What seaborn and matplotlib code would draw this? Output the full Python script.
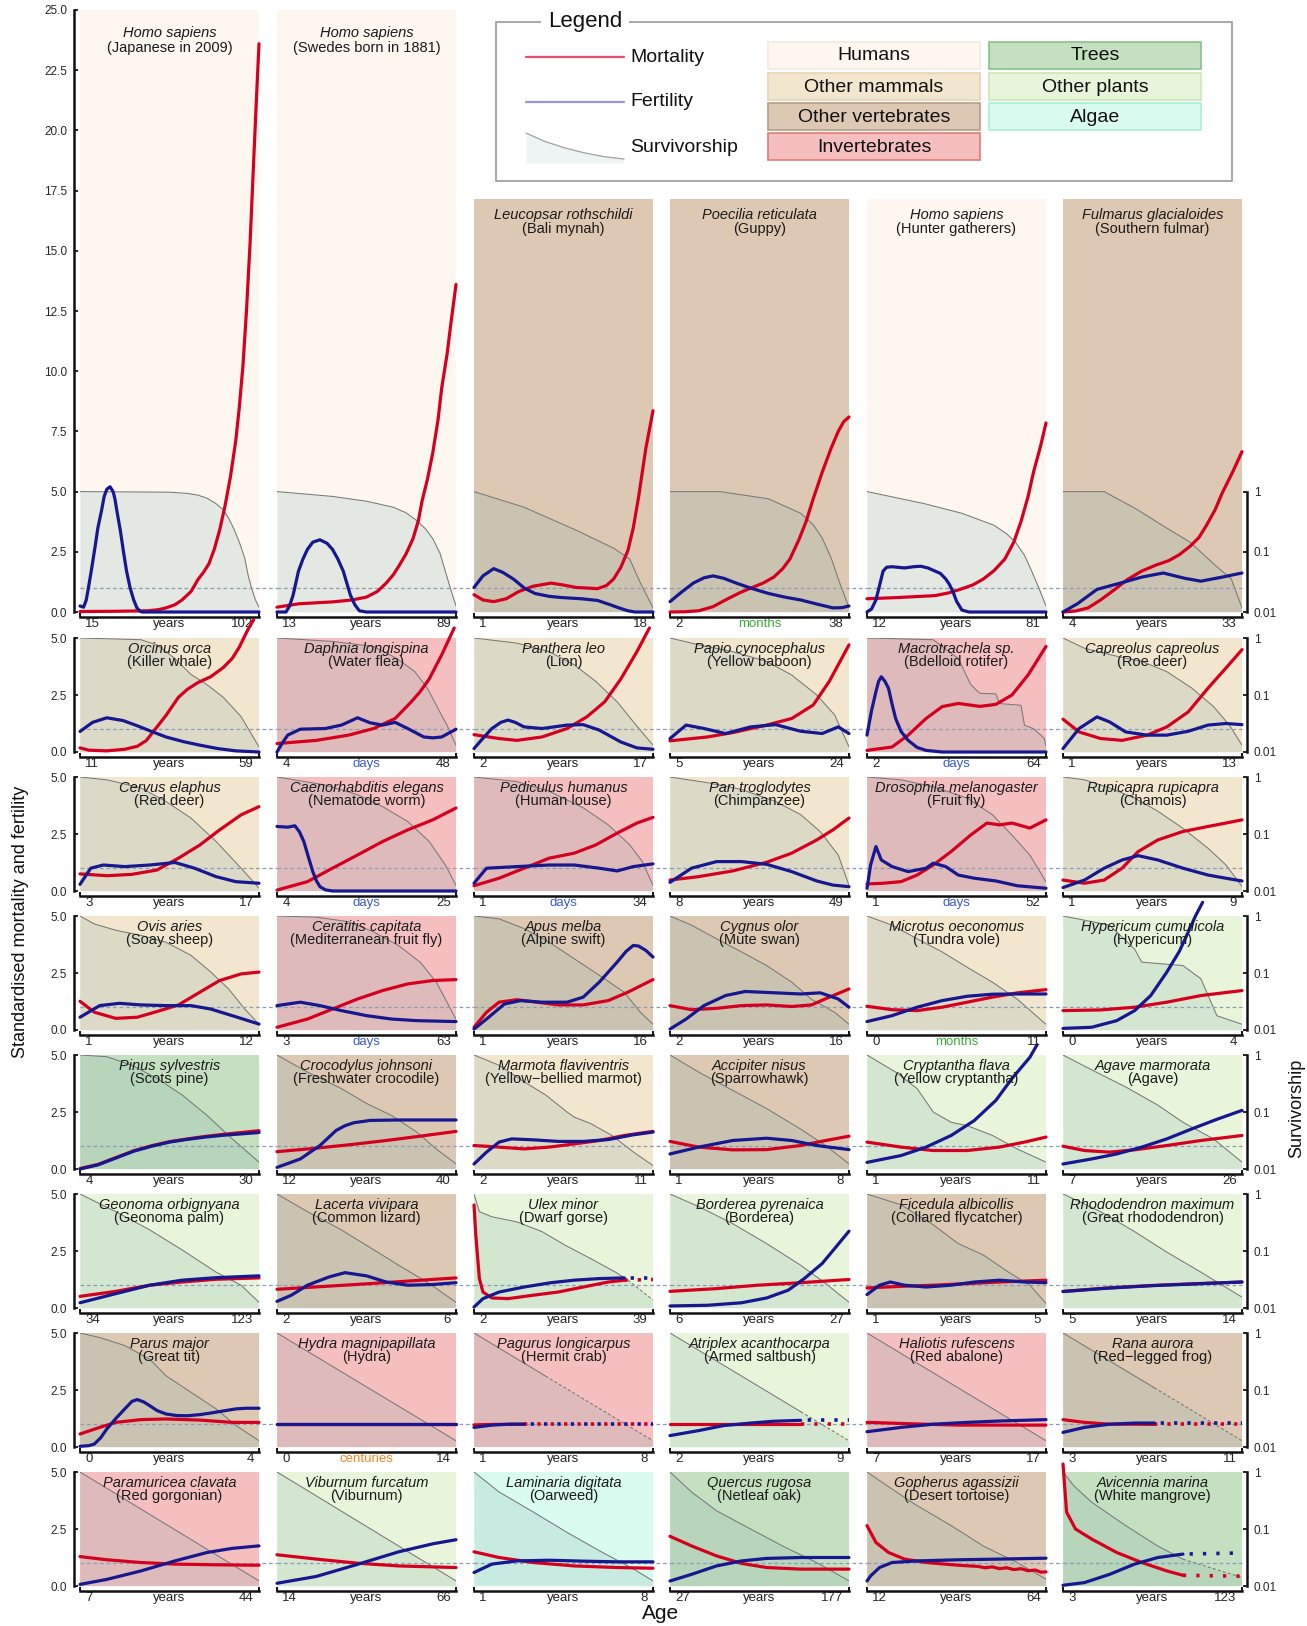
import numpy as np
import pandas as pd
import matplotlib
matplotlib.use("Agg")
import matplotlib.pyplot as plt
from matplotlib.patches import Rectangle
from matplotlib.ticker import NullLocator
import seaborn as sns

# ---------------------------------------------------------------- labels
species = [
    "Homo sapiens", "Homo sapiens", "Leucopsar rothschildi", "Poecilia reticulata", "Homo sapiens", "Fulmarus glacialoides",
    "Orcinus orca", "Daphnia longispina", "Panthera leo", "Papio cynocephalus", "Macrotrachela sp.", "Capreolus capreolus",
    "Cervus elaphus", "Caenorhabditis elegans", "Pediculus humanus", "Pan troglodytes", "Drosophila melanogaster", "Rupicapra rupicapra",
    "Ovis aries", "Ceratitis capitata", "Apus melba", "Cygnus olor", "Microtus oeconomus", "Hypericum cumulicola",
    "Pinus sylvestris", "Crocodylus johnsoni", "Marmota flaviventris", "Accipiter nisus", "Cryptantha flava", "Agave marmorata",
    "Geonoma orbignyana", "Lacerta vivipara", "Ulex minor", "Borderea pyrenaica", "Ficedula albicollis", "Rhododendron maximum",
    "Parus major", "Hydra magnipapillata", "Pagurus longicarpus", "Atriplex acanthocarpa", "Haliotis rufescens", "Rana aurora",
    "Paramuricea clavata", "Viburnum furcatum", "Laminaria digitata", "Quercus rugosa", "Gopherus agassizii", "Avicennia marina",
]
common_names = [
    "(Japanese in 2009)", "(Swedes born in 1881)", "(Bali mynah)", "(Guppy)", "(Hunter gatherers)", "(Southern fulmar)",
    "(Killer whale)", "(Water flea)", "(Lion)", "(Yellow baboon)", "(Bdelloid rotifer)", "(Roe deer)",
    "(Red deer)", "(Nematode worm)", "(Human louse)", "(Chimpanzee)", "(Fruit fly)", "(Chamois)",
    "(Soay sheep)", "(Mediterranean fruit fly)", "(Alpine swift)", "(Mute swan)", "(Tundra vole)", "(Hypericum)",
    "(Scots pine)", "(Freshwater crocodile)", "(Yellow\u2212bellied marmot)", "(Sparrowhawk)", "(Yellow cryptantha)", "(Agave)",
    "(Geonoma palm)", "(Common lizard)", "(Dwarf gorse)", "(Borderea)", "(Collared flycatcher)", "(Great rhododendron)",
    "(Great tit)", "(Hydra)", "(Hermit crab)", "(Armed saltbush)", "(Red abalone)", "(Red\u2212legged frog)",
    "(Red gorgonian)", "(Viburnum)", "(Oarweed)", "(Netleaf oak)", "(Desert tortoise)", "(White mangrove)",
]
# H humans, M other mammals, V other vertebrates, I invertebrates, T trees, P other plants, A algae
groups = [
    "H", "H", "V", "V", "H", "V",
    "M", "I", "M", "M", "I", "M",
    "M", "I", "I", "M", "I", "M",
    "M", "I", "V", "V", "M", "P",
    "T", "V", "M", "V", "P", "P",
    "P", "V", "P", "P", "V", "P",
    "V", "I", "I", "P", "I", "V",
    "I", "P", "A", "T", "V", "T",
]
age_start = [15, 13, 1, 2, 12, 4,
             11, 4, 2, 5, 2, 1,
             3, 4, 1, 8, 1, 1,
             1, 3, 1, 2, 0, 0,
             4, 12, 2, 1, 1, 7,
             34, 2, 2, 6, 1, 5,
             0, 0, 1, 2, 7, 3,
             7, 14, 1, 27, 12, 3]
age_end = [102, 89, 18, 38, 81, 33,
           59, 48, 17, 24, 64, 13,
           17, 25, 34, 49, 52, 9,
           12, 63, 16, 16, 11, 4,
           30, 40, 11, 8, 11, 26,
           123, 6, 39, 27, 5, 14,
           4, 14, 8, 9, 17, 11,
           44, 66, 8, 177, 64, 123]
age_unit = ["years", "years", "years", "months", "years", "years",
            "years", "days", "years", "years", "days", "years",
            "years", "days", "days", "years", "days", "years",
            "years", "days", "years", "years", "months", "years",
            "years", "years", "years", "years", "years", "years",
            "years", "years", "years", "years", "years", "years",
            "years", "centuries", "years", "years", "years", "years",
            "years", "years", "years", "years", "years", "years"]

# ------------------------------------------- curves: (standardised age, value)
# mortality (_m) and fertility (_f) are standardised rates; survivorship (_s) is log10(lx)
japan_m = [(0, .02), (.2, .03), (.38, .05), (.44, .1), (.48, .17), (.53, .3), (.57, .5), (.62, .85), (.66, 1.36), (.69, 1.65),
           (.72, 2.0), (.75, 2.6), (.78, 3.4), (.81, 4.4), (.84, 5.6), (.87, 7.1), (.89, 8.5), (.91, 10.2), (.93, 12.5),
           (.95, 15.3), (.97, 18.7), (.985, 21.2), (1, 23.6)]
japan_f = [(0, .25), (.02, .2), (.035, .5), (.047, 1.0), (.065, 1.8), (.084, 2.7), (.1, 3.5), (.12, 4.2), (.135, 4.8),
           (.15, 5.1), (.168, 5.2), (.185, 5.0), (.195, 4.7), (.206, 4.2), (.225, 3.4), (.243, 2.5), (.26, 1.7), (.28, 1.0),
           (.3, .5), (.318, .17), (.335, .04), (.346, 0), (1, 0)]
japan_s = [(0, 0), (.5, -.01), (.6, -.03), (.66, -.06), (.71, -.11), (.76, -.2), (.8, -.3), (.83, -.44), (.86, -.62),
           (.89, -.84), (.92, -1.1), (.94, -1.4), (.96, -1.62), (.98, -1.8), (1, -1.92)]

swede_m = [(0, .2), (.12, .34), (.31, .42), (.42, .5), (.5, .62), (.56, .85), (.61, 1.2), (.65, 1.55), (.68, 1.9), (.72, 2.4),
           (.76, 3.05), (.79, 3.8), (.81, 4.6), (.84, 5.5), (.87, 6.6), (.9, 8.0), (.92, 9.3), (.95, 10.7), (.97, 11.9), (1, 13.6)]
swede_f = [(0, 0), (.05, 0), (.07, .25), (.09, .7), (.105, 1.2), (.12, 1.7), (.145, 2.2), (.17, 2.6), (.2, 2.9), (.24, 3.0),
           (.28, 2.85), (.31, 2.6), (.34, 2.2), (.37, 1.7), (.39, 1.2), (.41, .7), (.435, .3), (.46, .05), (.5, 0), (1, 0)]
swede_s = [(0, 0), (.31, -.08), (.5, -.16), (.65, -.26), (.72, -.35), (.78, -.48), (.83, -.62), (.87, -.78), (.91, -1.02),
           (.94, -1.32), (.97, -1.62), (1, -1.9)]

mynah_m = [(0, .72), (.05, .5), (.11, .43), (.18, .55), (.25, .85), (.33, 1.07), (.43, 1.2), (.5, 1.12), (.57, 1.02), (.69, .97),
           (.74, 1.1), (.78, 1.37), (.82, 1.85), (.86, 2.56), (.89, 3.5), (.92, 4.8), (.96, 6.8), (1, 8.36)]
mynah_f = [(0, 1.02), (.05, 1.5), (.11, 1.8), (.16, 1.65), (.22, 1.37), (.28, 1.0), (.34, .77), (.42, .65), (.49, .6), (.6, .55),
           (.69, .48), (.75, .33), (.81, .17), (.86, .05), (.9, 0), (1, 0)]
mynah_s = [(0, 0), (.28, -.26), (.57, -.64), (.78, -.94), (.87, -1.12), (.93, -1.52), (1, -1.93)]

guppy_m = [(0, 0), (.08, .01), (.16, .05), (.24, .22), (.31, .5), (.39, .8), (.46, 1.02), (.52, 1.2), (.58, 1.45), (.63, 1.8),
           (.67, 2.2), (.72, 3.0), (.76, 3.75), (.8, 4.7), (.85, 5.8), (.9, 6.8), (.94, 7.5), (.97, 7.9), (1, 8.1)]
guppy_f = [(0, .43), (.06, .8), (.13, 1.2), (.19, 1.42), (.24, 1.5), (.3, 1.4), (.37, 1.2), (.46, .97), (.55, .77), (.64, .62),
           (.73, .5), (.82, .33), (.91, .17), (.96, .18), (1, .25)]
guppy_s = [(0, 0), (.28, 0), (.55, -.12), (.73, -.36), (.8, -.55), (.85, -.77), (.9, -1.1), (.94, -1.45), (1, -1.93)]

hunter_m = [(0, .55), (.17, .6), (.38, .68), (.46, .8), (.52, .94), (.59, 1.12), (.65, 1.37), (.71, 1.72), (.77, 2.2), (.82, 2.9),
            (.86, 3.75), (.9, 4.8), (.93, 5.8), (.97, 6.9), (1, 7.85)]
hunter_f = [(0, 0), (.025, .12), (.05, .5), (.07, 1.1), (.09, 1.7), (.11, 1.86), (.14, 1.88), (.21, 1.83), (.26, 1.88), (.3, 1.9),
            (.34, 1.83), (.38, 1.7), (.41, 1.6), (.44, 1.37), (.46, 1.15), (.48, .85), (.5, .45), (.53, .08), (.57, 0), (1, 0)]
hunter_s = [(0, 0), (.32, -.2), (.53, -.36), (.71, -.56), (.78, -.7), (.83, -.84), (.88, -1.06), (.92, -1.32), (.96, -1.6), (1, -1.9)]

fulmar_m = [(0, 0), (.07, .04), (.14, .17), (.21, .5), (.29, .94), (.36, 1.35), (.44, 1.7), (.52, 1.95), (.59, 2.13), (.65, 2.38),
            (.71, 2.73), (.76, 3.1), (.8, 3.58), (.85, 4.25), (.89, 4.95), (.95, 5.85), (1, 6.66)]
fulmar_f = [(0, 0), (.08, .34), (.19, .94), (.32, 1.2), (.44, 1.45), (.56, 1.62), (.68, 1.4), (.77, 1.28), (.89, 1.45), (1, 1.62)]
fulmar_s = [(0, 0), (.23, 0), (.41, -.29), (.56, -.57), (.71, -.84), (.86, -1.25), (.94, -1.45), (1, -1.93)]

orca_m = [(0, .18), (.05, .08), (.15, .05), (.25, .12), (.32, .25), (.37, .5), (.41, .9), (.48, 1.6), (.55, 2.4), (.6, 2.75),
          (.66, 3.05), (.73, 3.3), (.8, 3.7), (.85, 4.1), (.89, 4.6), (.94, 5.4), (.97, 5.8)]
orca_f = [(0, .9), (.07, 1.3), (.15, 1.5), (.24, 1.38), (.32, 1.15), (.4, .9), (.48, .66), (.58, .45), (.67, .3), (.77, .15), (.87, .05), (1, 0)]
orca_s = [(0, 0), (.34, -.03), (.43, -.12), (.53, -.36), (.62, -.64), (.71, -.82), (.8, -1.04), (.9, -1.38), (1, -1.91)]

daphnia_m = [(0, .37), (.22, .51), (.4, .74), (.54, 1.03), (.66, 1.47), (.75, 2.2), (.8, 2.65), (.85, 3.2), (.92, 4.26), (.99, 5.44)]
daphnia_f = [(0, 0), (.03, .4), (.06, .74), (.13, 1.0), (.27, 1.03), (.36, 1.18), (.45, 1.5), (.52, 1.28), (.59, 1.18), (.66, 1.3),
             (.73, 1.03), (.82, .66), (.87, .62), (.92, .66), (1, 1.0)]
daphnia_s = [(0, 0), (.31, -.06), (.54, -.15), (.67, -.36), (.77, -.59), (.84, -.88), (.91, -1.3), (.95, -1.53), (1, -1.88)]

lion_m = [(0, .76), (.14, .59), (.24, .51), (.38, .66), (.52, 1.03), (.63, 1.54), (.73, 2.2), (.82, 3.2), (.91, 4.4), (.98, 5.44)]
lion_f = [(0, .15), (.05, .6), (.1, 1.03), (.15, 1.3), (.19, 1.4), (.23, 1.3), (.28, 1.1), (.38, 1.03), (.52, 1.18), (.61, 1.2),
          (.7, .96), (.76, .7), (.82, .44), (.91, .18), (1, .12)]
lion_s = [(0, 0), (.24, -.09), (.42, -.24), (.56, -.47), (.68, -.76), (.8, -1.12), (.89, -1.47), (1, -1.88)]

baboon_m = [(0, .49), (.21, .66), (.35, .85), (.54, 1.18), (.68, 1.47), (.8, 2.06), (.89, 3.1), (1, 4.7)]
baboon_f = [(0, .59), (.09, 1.18), (.19, 1.03), (.31, .81), (.45, 1.1), (.59, 1.2), (.73, .91), (.85, .81), (.94, 1.1), (1, .81)]
baboon_s = [(0, 0), (.16, -.12), (.35, -.24), (.54, -.41), (.68, -.65), (.82, -1.0), (.92, -1.35), (1, -1.91)]

rotifer_m = [(0, .07), (.14, .22), (.23, .74), (.33, 1.47), (.42, 1.99), (.51, 2.13), (.63, 2.0), (.72, 2.09), (.81, 2.5),
             (.9, 3.38), (1, 4.63)]
rotifer_f = [(0, .74), (.025, 1.8), (.05, 2.65), (.065, 3.1), (.08, 3.3), (.1, 3.1), (.12, 2.8), (.14, 2.1), (.16, 1.47),
             (.19, .9), (.23, .51), (.28, .2), (.33, .07), (.42, 0), (1, 0)]
rotifer_s = [(0, 0), (.37, -.03), (.51, -.36), (.58, -.82), (.63, -.97), (.72, -.98), (.74, -1.15), (.86, -1.18),
             (.88, -1.53), (.93, -1.59), (.99, -1.76), (1, -1.9)]

roe_m = [(0, 1.44), (.09, .88), (.21, .59), (.33, .51), (.47, .74), (.58, 1.1), (.7, 1.76), (.81, 2.8), (.91, 3.68), (1, 4.49)]
roe_f = [(0, .15), (.09, 1.03), (.19, 1.54), (.26, 1.32), (.35, .88), (.47, .74), (.58, .74), (.7, .91), (.81, 1.18), (.91, 1.25), (1, 1.2)]
roe_s = [(0, 0), (.12, -.18), (.3, -.32), (.44, -.41), (.58, -.59), (.72, -.88), (.84, -1.2), (.93, -1.53), (1, -1.88)]

reddeer_m = [(0, .75), (.15, .67), (.29, .73), (.43, .92), (.55, 1.44), (.67, 2.02), (.78, 2.68), (.9, 3.34), (1, 3.7)]
reddeer_f = [(0, .29), (.06, 1.0), (.13, 1.14), (.25, 1.07), (.39, 1.14), (.53, 1.25), (.64, 1.0), (.76, .63), (.87, .41), (1, .34)]
reddeer_s = [(0, 0), (.15, -.05), (.34, -.19), (.48, -.43), (.62, -.72), (.76, -1.13), (.9, -1.6), (1, -1.95)]

worm_m = [(0, .04), (.17, .41), (.31, 1.0), (.45, 1.58), (.59, 2.17), (.73, 2.68), (.87, 3.12), (1, 3.64)]
worm_f = [(0, 2.83), (.06, 2.8), (.1, 2.86), (.125, 2.6), (.15, 2.17), (.175, 1.5), (.2, .85), (.22, .45), (.24, .19),
          (.27, .05), (.31, 0), (1, 0)]
worm_s = [(0, 0), (.27, -.14), (.45, -.31), (.59, -.52), (.73, -.78), (.85, -1.13), (.94, -1.54), (1, -1.9)]

louse_m = [(0, .23), (.14, .56), (.28, 1.0), (.42, 1.44), (.56, 1.66), (.68, 2.02), (.8, 2.54), (.91, 2.98), (1, 3.23)]
louse_f = [(0, .34), (.07, 1.0), (.24, 1.07), (.42, 1.14), (.56, 1.14), (.7, 1.0), (.8, .88), (.89, 1.07), (1, 1.19)]
louse_s = [(0, 0), (.24, -.08), (.42, -.25), (.61, -.54), (.75, -.84), (.87, -1.19), (.94, -1.48), (1, -1.9)]

chimp_m = [(0, .48), (.16, .63), (.35, .88), (.54, 1.26), (.68, 1.66), (.82, 2.24), (.91, 2.68), (1, 3.2)]
chimp_f = [(0, .38), (.12, 1.0), (.26, 1.29), (.4, 1.29), (.54, 1.17), (.68, .85), (.82, .44), (.91, .26), (1, .19)]
chimp_s = [(0, 0), (.21, -.1), (.4, -.22), (.59, -.43), (.73, -.66), (.84, -.96), (.94, -1.37), (1, -1.9)]

fly_m = [(0, .31), (.09, .34), (.19, .41), (.28, .7), (.37, 1.14), (.47, 1.73), (.58, 2.46), (.67, 2.98), (.74, 2.9),
         (.81, 2.98), (.91, 2.76), (1, 3.12)]
fly_f = [(0, .12), (.02, 1.14), (.05, 1.95), (.08, 1.36), (.14, 1.07), (.23, .85), (.33, 1.0), (.37, 1.22), (.44, 1.07),
         (.51, .7), (.6, .56), (.72, .44), (.84, .23), (1, .12)]
fly_s = [(0, 0), (.19, -.05), (.37, -.17), (.56, -.37), (.7, -.66), (.81, -1.02), (.91, -1.37), (1, -1.84)]

chamois_m = [(0, .48), (.12, .34), (.23, .48), (.33, 1.0), (.42, 1.73), (.53, 2.24), (.67, 2.61), (.81, 2.83), (.91, 2.98), (1, 3.12)]
chamois_f = [(0, .15), (.12, .48), (.23, 1.0), (.33, 1.36), (.42, 1.55), (.53, 1.36), (.67, 1.0), (.81, .7), (.91, .56), (1, .44)]
chamois_s = [(0, 0), (.12, -.05), (.26, -.19), (.4, -.37), (.53, -.6), (.67, -.9), (.81, -1.25), (.91, -1.54), (1, -1.92)]

sheep_m = [(0, 1.26), (.08, .78), (.2, .51), (.32, .56), (.43, .81), (.55, 1.1), (.67, 1.66), (.78, 2.17), (.9, 2.46), (1, 2.54)]
sheep_f = [(0, .56), (.11, 1.07), (.22, 1.17), (.34, 1.1), (.48, 1.07), (.62, 1.07), (.73, .92), (.85, .63), (1, .26)]
sheep_s = [(0, 0), (.08, -.14), (.2, -.25), (.34, -.34), (.48, -.46), (.62, -.69), (.73, -.98), (.83, -1.28), (.92, -1.63), (1, -1.9)]

medfly_m = [(0, .12), (.17, .48), (.31, .92), (.45, 1.36), (.59, 1.73), (.73, 2.02), (.87, 2.17), (1, 2.21)]
medfly_f = [(0, 1.07), (.13, 1.22), (.24, 1.07), (.36, .85), (.5, .63), (.64, .48), (.78, .41), (1, .37)]
medfly_s = [(0, 0), (.22, -.02), (.4, -.1), (.54, -.28), (.68, -.52), (.8, -.81), (.89, -1.16), (1, -1.81)]

swift_m = [(0, .12), (.07, .78), (.14, 1.22), (.24, 1.33), (.35, 1.22), (.47, 1.1), (.61, 1.1), (.75, 1.29), (.86, 1.66), (1, 2.21)]
swift_f = [(0, .04), (.07, .48), (.17, 1.14), (.26, 1.29), (.38, 1.22), (.52, 1.22), (.61, 1.44), (.7, 2.1), (.8, 2.98),
           (.85, 3.45), (.89, 3.71), (.92, 3.68), (.96, 3.49), (1, 3.2)]
swift_s = [(0, 0), (.14, -.05), (.28, -.22), (.42, -.46), (.56, -.75), (.7, -1.04), (.84, -1.34), (.93, -1.69), (1, -1.9)]

swan_m = [(0, 1.07), (.12, .89), (.26, .95), (.4, 1.07), (.54, 1.1), (.68, 1.03), (.79, 1.1), (.89, 1.44), (1, 1.8)]
swan_f = [(0, .04), (.09, .48), (.19, 1.07), (.31, 1.51), (.42, 1.69), (.59, 1.63), (.73, 1.58), (.84, 1.63), (.94, 1.36), (1, 1.0)]
swan_s = [(0, 0), (.12, -.16), (.26, -.4), (.4, -.63), (.54, -.87), (.68, -1.16), (.79, -1.46), (.92, -1.69), (1, -1.9)]

vole_m = [(0, 1.04), (.14, .89), (.28, .85), (.42, 1.0), (.56, 1.22), (.7, 1.44), (.84, 1.63), (1, 1.77)]
vole_f = [(0, .37), (.14, .63), (.28, 1.0), (.42, 1.29), (.56, 1.48), (.7, 1.57), (.84, 1.58), (1, 1.58)]
vole_s = [(0, 0), (.14, -.16), (.28, -.4), (.42, -.63), (.56, -.9), (.7, -1.16), (.84, -1.46), (1, -1.9)]

hyper_m = [(0, .85), (.21, .88), (.4, 1.0), (.58, 1.22), (.77, 1.51), (1, 1.73)]
hyper_f = [(0, .07), (.16, .12), (.3, .41), (.4, .85), (.49, 1.51), (.58, 2.54), (.65, 3.45), (.7, 4.3), (.74, 5.0), (.78, 5.6)]
hyper_s = [(0, 0), (.26, -.16), (.4, -.58), (.44, -.81), (.67, -.87), (.77, -1.1), (.86, -1.75), (1, -1.9)]

pine_m = [(0, .02), (.1, .2), (.2, .5), (.3, .8), (.4, 1.02), (.5, 1.2), (.6, 1.32), (.7, 1.43), (.8, 1.52), (.9, 1.6), (1, 1.68)]
pine_f = [(0, 0), (.1, .18), (.2, .48), (.3, .78), (.4, 1.0), (.5, 1.18), (.6, 1.3), (.7, 1.4), (.8, 1.48), (.9, 1.54), (1, 1.6)]
pine_s = [(0, 0), (.15, -.03), (.29, -.18), (.43, -.41), (.57, -.7), (.71, -1.06), (.85, -1.47), (1, -1.88)]

croc_m = [(0, .76), (.2, .9), (.4, 1.06), (.6, 1.24), (.8, 1.44), (1, 1.65)]
croc_f = [(0, .07), (.13, .44), (.24, 1.03), (.33, 1.69), (.38, 1.9), (.43, 2.03), (.52, 2.13), (.68, 2.15), (1, 2.15)]
croc_s = [(0, 0), (.17, -.3), (.36, -.59), (.5, -.85), (.64, -1.06), (.78, -1.35), (.89, -1.65), (1, -1.91)]

marmot_m = [(0, 1.03), (.14, .96), (.28, .88), (.42, .96), (.56, 1.1), (.7, 1.25), (.84, 1.47), (1, 1.65)]
marmot_f = [(0, .22), (.07, .74), (.14, 1.18), (.21, 1.32), (.33, 1.28), (.47, 1.21), (.61, 1.21), (.75, 1.29), (.89, 1.5), (1, 1.62)]
marmot_s = [(0, 0), (.14, -.18), (.28, -.47), (.4, -.7), (.52, -1.0), (.56, -1.09), (.65, -1.2), (.77, -1.41), (.89, -1.7), (1, -1.94)]

hawk_m = [(0, 1.21), (.16, .96), (.35, .84), (.54, .85), (.73, 1.03), (.87, 1.25), (1, 1.44)]
hawk_f = [(0, .66), (.16, .96), (.35, 1.25), (.54, 1.35), (.68, 1.25), (.82, 1.03), (1, .85)]
hawk_s = [(0, 0), (.16, -.3), (.35, -.62), (.54, -.94), (.73, -1.3), (.87, -1.59), (1, -1.91)]

crypt_m = [(0, 1.18), (.19, .96), (.37, .81), (.56, .81), (.74, .96), (.88, 1.18), (1, 1.4)]
crypt_f = [(0, .29), (.19, .59), (.33, .96), (.47, 1.47), (.6, 2.13), (.72, 3.01), (.81, 3.97), (.91, 4.9), (.95, 5.45)]
crypt_s = [(0, 0), (.16, -.3), (.28, -.59), (.37, -1.0), (.47, -1.18), (.56, -1.24), (.7, -1.41), (.84, -1.65), (1, -1.88)]

agave_m = [(0, 1.0), (.12, .81), (.26, .74), (.4, .84), (.58, 1.03), (.77, 1.25), (1, 1.47)]
agave_f = [(0, .22), (.16, .44), (.3, .66), (.44, .96), (.58, 1.32), (.72, 1.76), (.86, 2.18), (1, 2.57)]
agave_s = [(0, 0), (.16, -.26), (.35, -.56), (.53, -.88), (.67, -1.18), (.84, -1.47), (1, -1.88)]

palm_m = [(0, .51), (.2, .73), (.39, 1.0), (.57, 1.14), (.76, 1.26), (1, 1.32)]
palm_f = [(0, .23), (.2, .63), (.39, 1.0), (.57, 1.22), (.76, 1.33), (1, 1.41)]
palm_s = [(0, 0), (.2, -.31), (.39, -.63), (.57, -.98), (.76, -1.37), (.9, -1.6), (1, -1.9)]

lizard_m = [(0, .82), (.25, .94), (.5, 1.06), (.75, 1.19), (1, 1.32)]
lizard_f = [(0, .29), (.08, .56), (.17, 1.0), (.29, 1.36), (.38, 1.55), (.5, 1.41), (.61, 1.14), (.73, 1.0), (.87, 1.03), (1, 1.11)]
lizard_s = [(0, 0), (.17, -.31), (.36, -.63), (.5, -.9), (.68, -1.25), (.85, -1.57), (1, -1.9)]

gorse_m = [(0, 4.52), (.01, 3.2), (.03, 1.29), (.05, .7), (.1, .44), (.19, .41), (.33, .56), (.47, .7), (.61, .92),
           (.75, 1.14), (.84, 1.22), (1, 1.25)]
gorse_f = [(0, .04), (.05, .41), (.14, .7), (.28, .92), (.43, 1.11), (.56, 1.22), (.7, 1.29), (.84, 1.32), (1, 1.32)]
gorse_s = [(0, 0), (.03, -.31), (.1, -.4), (.24, -.49), (.38, -.66), (.51, -.9), (.65, -1.13), (.79, -1.37), (.86, -1.51), (1, -1.86)]

borderea_m = [(0, .73), (.26, .85), (.49, 1.0), (.73, 1.11), (1, 1.25)]
borderea_f = [(0, .09), (.21, .12), (.4, .23), (.54, .44), (.66, .78), (.75, 1.29), (.85, 1.95), (.92, 2.61), (1, 3.37)]
borderea_s = [(0, 0), (.16, -.22), (.35, -.52), (.54, -.87), (.73, -1.25), (.87, -1.57), (1, -1.9)]

flycatcher_m = [(0, .88), (.19, .95), (.37, 1.0), (.56, 1.07), (.74, 1.14), (1, 1.22)]
flycatcher_f = [(0, .59), (.07, 1.0), (.13, 1.14), (.21, 1.0), (.33, .92), (.47, 1.0), (.6, 1.14), (.74, 1.22), (.88, 1.14), (1, 1.11)]
flycatcher_s = [(0, 0), (.19, -.19), (.37, -.54), (.51, -.87), (.65, -1.07), (.79, -1.37), (.91, -1.6), (1, -1.92)]

rhodo_m = [(0, .73), (.25, .88), (.5, .99), (.75, 1.07), (1, 1.14)]
rhodo_f = [(0, .72), (.25, .87), (.5, .98), (.75, 1.06), (1, 1.14)]
rhodo_s = [(0, 0), (.21, -.31), (.4, -.66), (.58, -1.02), (.77, -1.37), (1, -1.81)]

tit_m = [(0, .57), (.11, .86), (.2, 1.08), (.34, 1.2), (.48, 1.23), (.67, 1.18), (.85, 1.08), (1, 1.08)]
tit_f = [(0, .03), (.05, .06), (.08, .13), (.115, .4), (.15, .79), (.2, 1.25), (.25, 1.67), (.29, 2.0), (.32, 2.08), (.355, 1.98),
         (.39, 1.81), (.43, 1.6), (.48, 1.45), (.54, 1.38), (.6, 1.37), (.67, 1.42), (.73, 1.49), (.8, 1.58), (.87, 1.67),
         (.93, 1.7), (1, 1.7)]
tit_s = [(0, 0), (.11, -.08), (.25, -.22), (.39, -.46), (.48, -.75), (.62, -1.04), (.76, -1.33), (.87, -1.62), (1, -1.89)]

hydra_m = [(0, 1.0), (1, 1.0)]
hydra_f = [(0, 1.0), (1, 1.0)]
hydra_s = [(0, 0), (1, -1.89)]

crab_m = [(0, .97), (.1, .99), (.28, 1.0), (1, 1.0)]
crab_f = [(0, .86), (.1, .96), (.2, 1.0), (.28, 1.0), (1, 1.0)]
crab_s = [(0, 0), (.4, -.756), (1, -1.89)]

saltbush_m = [(0, 1.0), (.73, 1.0), (1, 1.0)]
saltbush_f = [(0, .5), (.16, .72), (.3, .94), (.45, 1.05), (.58, 1.13), (.73, 1.17), (1, 1.17)]
saltbush_s = [(0, 0), (.73, -1.38), (1, -1.89)]

abalone_m = [(0, 1.08), (.28, 1.01), (.51, .96), (.74, .96), (1, .96)]
abalone_f = [(0, .67), (.19, .86), (.37, 1.0), (.56, 1.08), (.74, 1.14), (1, 1.2)]
abalone_s = [(0, 0), (1, -1.89)]

frog_m = [(0, 1.2), (.12, 1.08), (.26, 1.0), (.4, 1.0), (.51, .99), (1, .99)]
frog_f = [(0, .64), (.12, .86), (.26, 1.0), (.4, 1.05), (.51, 1.05), (1, 1.05)]
frog_s = [(0, 0), (.51, -.96), (1, -1.89)]

gorgonian_m = [(0, 1.29), (.15, 1.15), (.34, 1.03), (.53, .96), (.76, .93), (1, .91)]
gorgonian_f = [(0, .07), (.15, .29), (.34, .66), (.53, 1.1), (.71, 1.47), (.85, 1.65), (1, 1.76)]
gorgonian_s = [(0, 0), (1, -1.91)]

viburnum_m = [(0, 1.37), (.22, 1.18), (.45, 1.0), (.68, .88), (1, .81)]
viburnum_f = [(0, .12), (.22, .42), (.45, .95), (.68, 1.5), (.87, 1.85), (1, 2.03)]
viburnum_s = [(0, 0), (1, -1.91)]

oarweed_m = [(0, 1.5), (.14, 1.25), (.33, 1.03), (.56, .88), (.8, .81), (1, .78)]
oarweed_f = [(0, .59), (.1, .96), (.24, 1.1), (.42, 1.13), (.61, 1.09), (.8, 1.06), (1, 1.06)]
oarweed_s = [(0, 0), (.14, -.35), (.33, -.7), (.52, -1.06), (.7, -1.38), (.89, -1.7), (1, -1.91)]

oak_m = [(0, 2.18), (.12, 1.76), (.26, 1.32), (.4, .99), (.54, .81), (.73, .74), (1, .74)]
oak_f = [(0, .22), (.12, .51), (.26, .88), (.4, 1.1), (.54, 1.21), (.73, 1.25), (1, 1.25)]
oak_s = [(0, 0), (.12, -.35), (.26, -.68), (.45, -1.0), (.63, -1.3), (.82, -1.59), (1, -1.91)]

tortoise_m = [(0, 2.65), (.05, 1.91), (.12, 1.47), (.21, 1.18), (.33, 1.03), (.51, .91), (.62, .86), (.66, .8), (.7, .84),
              (.74, .76), (.78, .8), (.82, .72), (.86, .76), (.9, .67), (.94, .7), (.97, .61), (1, .62)]
tortoise_f = [(0, .22), (.02, .44), (.07, .81), (.14, 1.03), (.28, 1.1), (.51, 1.15), (.74, 1.18), (1, 1.22)]
tortoise_s = [(0, 0), (.14, -.3), (.28, -.59), (.47, -.94), (.65, -1.3), (.84, -1.59), (1, -1.88)]

mangrove_m = [(0, 5.35), (.02, 3.24), (.07, 2.5), (.16, 2.06), (.3, 1.47), (.44, 1.03), (.58, .66), (.67, .47), (1, .43)]
mangrove_f = [(0, .03), (.12, .15), (.26, .51), (.4, .96), (.53, 1.25), (.67, 1.4), (1, 1.45)]
mangrove_s = [(0, 0), (.06, -.24), (.16, -.53), (.35, -.94), (.53, -1.3), (.67, -1.53), (1, -1.85)]

mortality = [japan_m, swede_m, mynah_m, guppy_m, hunter_m, fulmar_m,
             orca_m, daphnia_m, lion_m, baboon_m, rotifer_m, roe_m,
             reddeer_m, worm_m, louse_m, chimp_m, fly_m, chamois_m,
             sheep_m, medfly_m, swift_m, swan_m, vole_m, hyper_m,
             pine_m, croc_m, marmot_m, hawk_m, crypt_m, agave_m,
             palm_m, lizard_m, gorse_m, borderea_m, flycatcher_m, rhodo_m,
             tit_m, hydra_m, crab_m, saltbush_m, abalone_m, frog_m,
             gorgonian_m, viburnum_m, oarweed_m, oak_m, tortoise_m, mangrove_m]
fertility = [japan_f, swede_f, mynah_f, guppy_f, hunter_f, fulmar_f,
             orca_f, daphnia_f, lion_f, baboon_f, rotifer_f, roe_f,
             reddeer_f, worm_f, louse_f, chimp_f, fly_f, chamois_f,
             sheep_f, medfly_f, swift_f, swan_f, vole_f, hyper_f,
             pine_f, croc_f, marmot_f, hawk_f, crypt_f, agave_f,
             palm_f, lizard_f, gorse_f, borderea_f, flycatcher_f, rhodo_f,
             tit_f, hydra_f, crab_f, saltbush_f, abalone_f, frog_f,
             gorgonian_f, viburnum_f, oarweed_f, oak_f, tortoise_f, mangrove_f]
survivorship = [japan_s, swede_s, mynah_s, guppy_s, hunter_s, fulmar_s,
                orca_s, daphnia_s, lion_s, baboon_s, rotifer_s, roe_s,
                reddeer_s, worm_s, louse_s, chimp_s, fly_s, chamois_s,
                sheep_s, medfly_s, swift_s, swan_s, vole_s, hyper_s,
                pine_s, croc_s, marmot_s, hawk_s, crypt_s, agave_s,
                palm_s, lizard_s, gorse_s, borderea_s, flycatcher_s, rhodo_s,
                tit_s, hydra_s, crab_s, saltbush_s, abalone_s, frog_s,
                gorgonian_s, viburnum_s, oarweed_s, oak_s, tortoise_s, mangrove_s]

# ages beyond which the rates / survivorship are extrapolated (drawn dotted / dashed)
rates_extrapolated_from = {32: .84, 38: .28, 39: .73, 41: .51, 47: .67}
surv_extrapolated_from = {32: .86, 38: .4, 39: .73, 41: .51, 47: .67}

# ---------------------------------------------------------------- styling
group_names = ["Humans", "Other mammals", "Other vertebrates", "Invertebrates", "Trees", "Other plants", "Algae"]
group_codes = ["H", "M", "V", "I", "T", "P", "A"]
group_fill = ["#FDF7F0", "#F3E6CF", "#DDC9B3", "#F6BFBF", "#C5E0C0", "#E8F5DA", "#DAFBEF"]
group_edge = ["#F3EAE0", "#E6D4B4", "#B79D84", "#E27A7A", "#86C286", "#CBE7B4", "#A6F0D8"]
BG = dict(zip(group_codes, group_fill))
unit_color = {"years": "#222222", "days": "#3A5BD0", "months": "#3AAA3A", "centuries": "#F5861F"}

RED = "#D5001F"
BLUE = "#17178F"
SURV_FILL = (128 / 255, 172 / 255, 170 / 255)
SURV_LINE = "#787878"
REF_LINE = "#8C9CB8"

sns.set_theme(style="ticks")
plt.rcParams["font.family"] = ["Liberation Sans", "DejaVu Sans"]
plt.rcParams["axes.unicode_minus"] = True

W, H = 1307, 1626
fig = plt.figure(figsize=(W / 100, H / 100), dpi=100)

COL_X = [80, 277, 474, 670, 867, 1063]
PW = 179
ROW_TOP = [638, 777, 916, 1055, 1194, 1333, 1472]
PH = 114
TOP_BOTTOM, TALL_TOP, SHORT_TOP = 612, 10, 199
PX_PER_UNIT_TOP = (TOP_BOTTOM - TALL_TOP) / 25.0
PT = 72 / 100  # points per pixel


def frame(pts):
    return pd.DataFrame(pts, columns=["age", "value"])


def split(pts, cut):
    if cut is None:
        return pts, []
    return [p for p in pts if p[0] <= cut], [p for p in pts if p[0] >= cut]


def draw_rate(ax, pts, cut, color, dot_offset):
    solid, rest = split(pts, cut)
    sns.lineplot(data=frame(solid), x="age", y="value", ax=ax, color=color, linewidth=2.3,
                 estimator=None, sort=False, clip_on=False, zorder=4)
    if rest:
        sns.lineplot(data=frame(rest), x="age", y="value", ax=ax, color=color, linewidth=2.6,
                     estimator=None, sort=False, clip_on=False, zorder=4,
                     linestyle=(dot_offset, (0.9, 2.8)), solid_capstyle="butt", dash_capstyle="butt")


for i in range(48):
    r, c = divmod(i, 6)
    x0 = COL_X[c]
    if r == 0:
        y_top = TALL_TOP if c < 2 else SHORT_TOP
        y_bot = TOP_BOTTOM
        ymax = (y_bot - y_top) / PX_PER_UNIT_TOP
    else:
        y_top = ROW_TOP[r - 1]
        y_bot = y_top + PH
        ymax = 5.0

    ax = fig.add_axes([x0 / W, 1 - y_bot / H, PW / W, (y_bot - y_top) / H])
    ax2 = ax.twinx()
    ax.set_zorder(3)
    ax2.set_zorder(2)
    ax.patch.set_visible(False)
    ax2.patch.set_visible(True)
    ax2.set_facecolor(BG[groups[i]])

    # survivorship on the log axis (0.01 .. 1 fills the 0 .. 5 band)
    s = frame(survivorship[i])
    s["lx"] = 10.0 ** s["value"]
    ax2.set_yscale("log")
    ax2.fill_between(s["age"], 0.01, s["lx"], color=SURV_FILL, alpha=0.2, lw=0)
    s_cut = surv_extrapolated_from.get(i)
    s_solid = s if s_cut is None else s[s["age"] <= s_cut]
    sns.lineplot(x=s_solid["age"], y=s_solid["lx"], ax=ax2, color=SURV_LINE, linewidth=0.75,
                 estimator=None, sort=False)
    if s_cut is not None:
        s_rest = s[s["age"] >= s_cut]
        sns.lineplot(x=s_rest["age"], y=s_rest["lx"], ax=ax2, color=SURV_LINE, linewidth=0.75,
                     estimator=None, sort=False, linestyle=(0, (3, 2)))
    ax2.set_ylim(0.01, 10 ** (-2 + 2 * ymax / 5))
    ax2.yaxis.set_minor_locator(NullLocator())

    # reference level 1.0, continuing across the gap to the next panel
    if c < 5:
        reach = (COL_X[c + 1] - x0) / PW
    else:
        reach = 1.0
    ax.axhline(1.0, xmin=0, xmax=reach, color=REF_LINE, lw=0.9, ls=(0, (3, 2.2)), clip_on=False, zorder=1)

    cut = rates_extrapolated_from.get(i)
    draw_rate(ax, mortality[i], cut, RED, 0)
    draw_rate(ax, fertility[i], cut, BLUE, 1.85)

    ax.set_xlim(0, 1)
    ax.set_ylim(0, ymax)
    ax.set_xlabel("")
    ax.set_ylabel("")
    ax2.set_ylabel("")

    for sp in ax.spines.values():
        sp.set_visible(False)
    for sp in ax2.spines.values():
        sp.set_visible(False)

    # bottom bracket with start age, unit and end age
    bs = ax.spines["bottom"]
    bs.set_visible(True)
    bs.set_position(("outward", 3.4))
    bs.set_bounds(0, 1)
    bs.set_linewidth(1.8)
    bs.set_color("#111111")
    ax.set_xticks([0.03, 0.5, 0.97])
    ax.set_xticklabels([str(age_start[i]), age_unit[i], str(age_end[i])])
    ax.set_xticks([0, 1], minor=True)
    ax.tick_params(axis="x", which="major", length=0, pad=1.2, labelsize=9.5, bottom=True)
    ax.tick_params(axis="x", which="minor", length=3, width=1.4, direction="in", bottom=True, color="#111111")
    labs = ax.get_xticklabels()
    labs[0].set_ha("left")
    labs[2].set_ha("right")
    labs[1].set_color(unit_color[age_unit[i]])

    # standardised rate axis on the first column
    if c == 0:
        ls = ax.spines["left"]
        ls.set_visible(True)
        ls.set_position(("outward", 4.3))
        ls.set_linewidth(1.8)
        ls.set_color("#111111")
        if r == 0:
            ticks = np.arange(0, 25.01, 2.5)
        else:
            ticks = np.array([0, 2.5, 5.0])
        ls.set_bounds(0, ticks[-1])
        ax.set_yticks(ticks)
        ax.set_yticklabels([f"{t:.1f}" for t in ticks])
        ax.tick_params(axis="y", left=True, length=3, width=1.4, direction="in", labelsize=8.5, pad=5)
    else:
        ax.tick_params(axis="y", left=False, labelleft=False)

    # survivorship axis on the last column
    if c == 5:
        rs = ax2.spines["right"]
        rs.set_visible(True)
        rs.set_position(("outward", 3.6))
        rs.set_linewidth(1.8)
        rs.set_color("#111111")
        rs.set_bounds(0.01, 1)
        ax2.set_yticks([0.01, 0.1, 1])
        ax2.set_yticklabels(["0.01", "0.1", "1"])
        ax2.tick_params(axis="y", right=True, length=3, width=1.4, direction="in", labelsize=8.5, pad=5)
    else:
        ax2.tick_params(axis="y", right=False, labelright=False)
    ax2.yaxis.set_minor_locator(NullLocator())

    # panel title
    if r == 0 and c < 2:
        off = (23, 38)
    elif r == 0:
        off = (16, 30)
    else:
        off = (11, 24)
    ax.annotate(species[i], xy=(0.5, 1), xycoords="axes fraction", xytext=(0, -off[0] * PT),
                textcoords="offset points", ha="center", va="center", fontsize=10.5,
                style="italic", color="#1a1a1a", zorder=6)
    ax.annotate(common_names[i], xy=(0.5, 1), xycoords="axes fraction", xytext=(0, -off[1] * PT),
                textcoords="offset points", ha="center", va="center", fontsize=10.5,
                color="#1a1a1a", zorder=6)

# ---------------------------------------------------------------- legend
lg = fig.add_axes([0, 0, 1, 1])
lg.set_xlim(0, W)
lg.set_ylim(H, 0)
lg.axis("off")
lg.set_zorder(1)
lg.add_patch(Rectangle((496, 22), 736, 159, fill=False, edgecolor="#9a9a9a", lw=1.2))
lg.text(548, 21, "Legend", fontsize=16, ha="left", va="center", color="#111111",
        bbox=dict(facecolor="white", edgecolor="none", pad=5))
lg.plot([526, 624], [57.5, 57.5], color="#E2506C", lw=1.6)
lg.text(630, 57, "Mortality", fontsize=14, ha="left", va="center", color="#111111")
lg.plot([526, 624], [102.5, 102.5], color="#9494D6", lw=1.6)
lg.text(630, 102, "Fertility", fontsize=14, ha="left", va="center", color="#111111")
icon_x = np.array([526, 545, 565, 585, 605, 624])
icon_y = np.array([133, 141.5, 148, 153, 156.8, 159])
lg.fill_between(icon_x, icon_y, 163, color="#EEF4F4", lw=0)
lg.plot(icon_x, icon_y, color="#A0A0A0", lw=0.9)
lg.text(630, 148, "Survivorship", fontsize=14, ha="left", va="center", color="#111111")

box_pos = [(768, 42), (768, 73), (768, 103), (768, 133), (989, 42), (989, 73), (989, 103)]
for name, fc, ec, (bx, by) in zip(group_names, group_fill, group_edge, box_pos):
    lg.add_patch(Rectangle((bx, by), 212, 27, facecolor=fc, edgecolor=ec, lw=1.2))
    lg.text(bx + 106, by + 14, name, fontsize=14, ha="center", va="center", color="#111111")

# ---------------------------------------------------------------- axis titles
fig.text(21 / W, 1 - 922 / H, "Standardised mortality and fertility", rotation=90,
         ha="center", va="center", fontsize=13, color="#111111")
fig.text(1297 / W, 1 - 1108 / H, "Survivorship", rotation=90,
         ha="center", va="center", fontsize=13, color="#111111")
fig.text(661 / W, 1 - 1613 / H, "Age", ha="center", va="center", fontsize=15, color="#111111")

fig.savefig("out.png", dpi=100)
